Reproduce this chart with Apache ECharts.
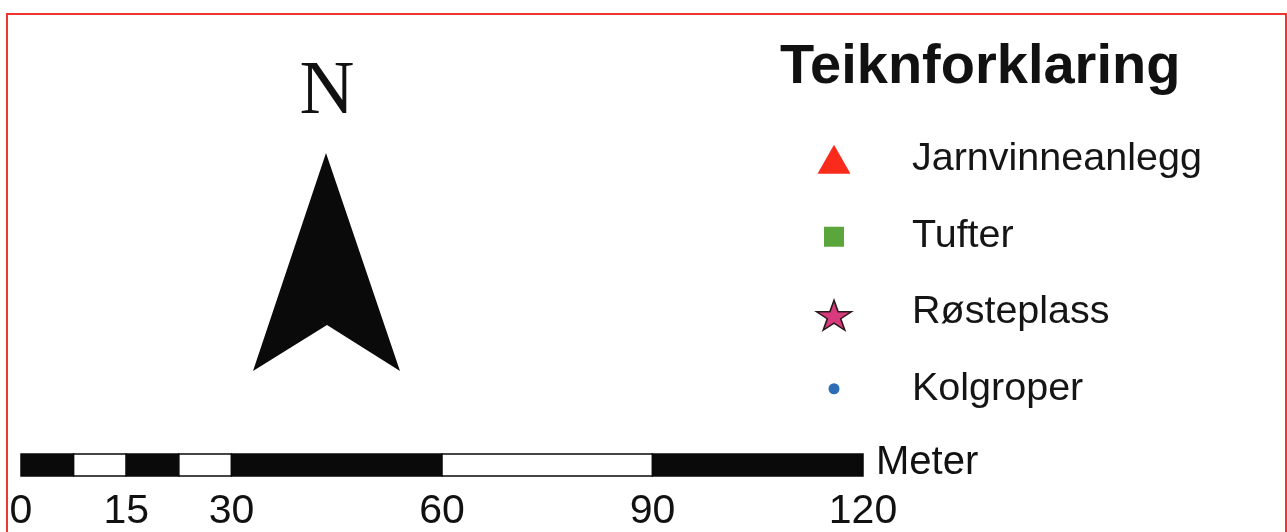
<!DOCTYPE html>
<html>
<head>
<meta charset="utf-8">
<title>Teiknforklaring</title>
<script src="https://cdn.jsdelivr.net/npm/echarts@6/dist/echarts.min.js"></script>
<style>
	html, body { margin: 0; padding: 0; background: #fff; }
	#main { width: 1287px; height: 532px; }
</style>
</head>
<body>
<div id="main"></div>
<script type="text/javascript">
	// scale bar (meters)
	var segStart = [0, 7.5, 15, 22.5, 30, 60, 90];
	var segEnd = [7.5, 15, 22.5, 30, 60, 90, 120];
	var scaleTicks = [0, 15, 30, 60, 90, 120];

	// legend rows
	var legendNames = ['Jarnvinneanlegg', 'Tufter', 'Røsteplass', 'Kolgroper'];

	var starPath = 'path://M100,0 L122.45,69.1 L195.1,69.1 L136.3,111.8 L158.8,180.9 L100,138.2 L41.2,180.9 L63.7,111.8 L4.9,69.1 L77.55,69.1 Z';
	var legendStyle = [
		{symbol: 'triangle', size: [33, 29], color: '#fb2b1c', offset: [0, 0]},
		{symbol: 'rect', size: [20, 20], color: '#5aa63c', offset: [0, 1]},
		{symbol: starPath, size: [35, 30], color: '#d83a7e', border: '#2a1a1a', offset: [0, 3]},
		{symbol: 'circle', size: [11, 11], color: '#2c6db6', offset: [0, 0]}
	];

	var sans = '"Liberation Sans", Arial, sans-serif';
	var chart = echarts.init(document.getElementById('main'));

	var option = {
		animation: false,
		backgroundColor: '#fff',
		title: {
			text: 'Teiknforklaring',
			left: 775,
			top: 35,
			textStyle: {fontSize: 56, fontWeight: 'bold', color: '#111', fontFamily: sans}
		},
		grid: [
			{left: 21, right: 424, top: 454, height: 24},
			{left: 784, width: 100, top: 121, height: 306}
		],
		xAxis: [
			{
				gridIndex: 0, type: 'value', min: 0, max: 120,
				axisLine: {show: false}, axisTick: {show: false}, splitLine: {show: false},
				axisLabel: {
					customValues: scaleTicks,
					fontSize: 41, color: '#111', fontFamily: sans, margin: 15
				}
			},
			{gridIndex: 1, type: 'value', min: 0, max: 1, show: false}
		],
		yAxis: [
			{gridIndex: 0, type: 'value', min: 0, max: 1, show: false},
			{
				gridIndex: 1, type: 'category', data: legendNames, inverse: true, position: 'right',
				axisLine: {show: false}, axisTick: {show: false}, splitLine: {show: false},
				axisLabel: {fontSize: 39.5, color: '#151515', fontFamily: sans, margin: 28, padding: [10, 0, 0, 0]}
			}
		],
		graphic: [
			{
				type: 'rect', silent: true, z: 100,
				shape: {x: 7, y: 14, width: 1279, height: 540},
				style: {fill: null, stroke: '#f0362c', lineWidth: 2}
			},
			{
				type: 'text', x: 327, y: 93,
				style: {text: 'N', font: '76px "Liberation Serif", "Times New Roman", serif', fill: '#111', textAlign: 'center', textVerticalAlign: 'middle'}
			},
			{
				type: 'polygon',
				shape: {points: [[326, 153], [400, 371], [327, 325], [253, 371]]},
				style: {fill: '#0a0a0a'}
			},
			{
				type: 'text', x: 876, y: 463,
				style: {text: 'Meter', font: '40px ' + sans, fill: '#111', textVerticalAlign: 'middle'}
			}
		],
		series: [
			{
				type: 'custom',
				xAxisIndex: 0, yAxisIndex: 0,
				data: segStart.map(function (s, i) { return [s, segEnd[i]]; }),
				renderItem: function (params, api) {
					var p0 = api.coord([api.value(0), 1]);
					var p1 = api.coord([api.value(1), 0]);
					return {
						type: 'rect',
						shape: {x: p0[0], y: p0[1], width: p1[0] - p0[0], height: p1[1] - p0[1]},
						style: {fill: params.dataIndex % 2 ? '#fff' : '#0a0a0a', stroke: '#0a0a0a', lineWidth: 1.5}
					};
				}
			},
			{
				type: 'scatter',
				xAxisIndex: 1, yAxisIndex: 1,
				data: legendNames.map(function (n, i) {
					var st = legendStyle[i];
					return {
						value: [0.5, n],
						symbol: st.symbol,
						symbolSize: st.size,
						symbolOffset: st.offset,
						itemStyle: {color: st.color, borderColor: st.border || st.color, borderWidth: st.border ? 1.5 : 0, opacity: 1}
					};
				})
			}
		]
	};
	chart.setOption(option);
</script>
</body>
</html>
